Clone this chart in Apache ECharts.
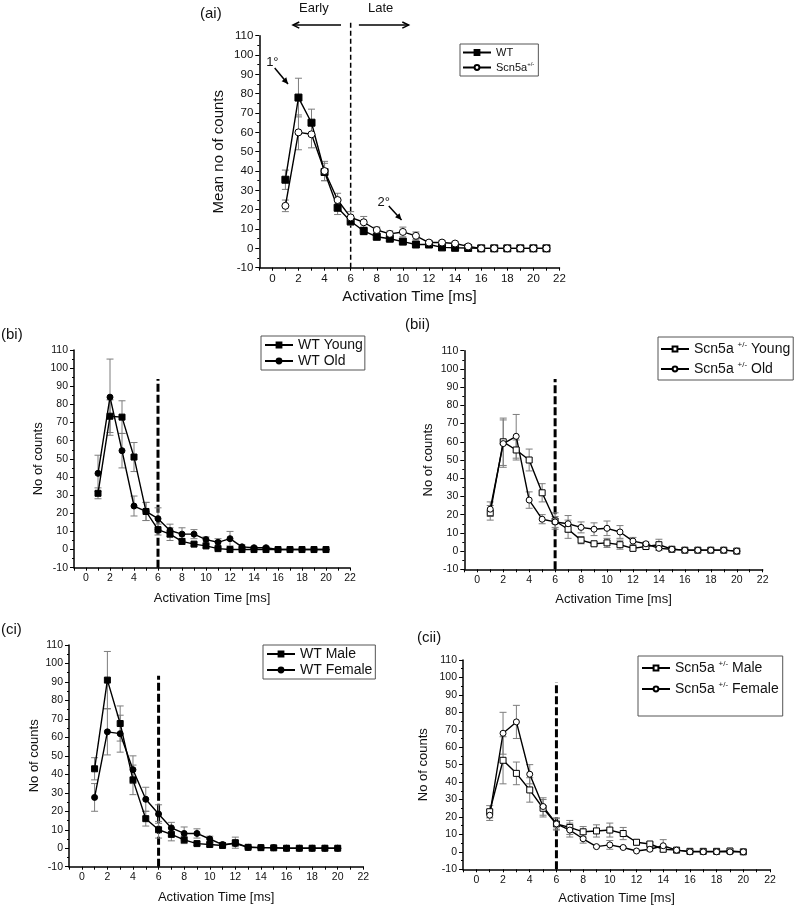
<!DOCTYPE html>
<html><head><meta charset="utf-8">
<script src="https://cdn.jsdelivr.net/npm/echarts@6/dist/echarts.min.js"></script>
<style>html,body{margin:0;padding:0;background:#fff}#c{width:795px;height:909px}</style>
</head><body><div id="c"></div>
<script>
const FONT = 'Liberation Sans, Arial, Helvetica, sans-serif';

// ---------- data ----------
const xAi = [1,2,3,4,5,6,7,8,9,10,11,12,13,14,15,16,17,18,19,20,21];
const xB  = [1,2,3,4,5,6,7,8,9,10,11,12,13,14,15,16,17,18,19,20];

const aiWT       = [35.5,78,65,39.5,21,14,9,6,5,3.5,2,2,0.5,0.3,0.2,0,0,0,0,0,0];
const aiWTErr    = [5,10,7,4.5,3.5,2,2,1.5,1,1,0.5,0.5,0.3,0.3,0.3,0,0,0,0,0,0];
const aiScn      = [22,60,59,40,25,16,13.5,9.5,7.5,8.5,6.5,3,3,2.5,1,0,0,0,0,0,0];
const aiScnErr   = [3,9,7,5,3.5,3,3,1.5,1.5,2.5,2,1,1,1,0.8,0.3,0.3,0.3,0.3,0.3,0];

const biYoung    = [31,73.5,73,51,21,11,8.5,4.5,3,2,0.5,0,0,0,0,0,0,0,0,0];
const biYoungErr = [3,9,9,8,5,3,3.5,1.5,1,1,0.5,0,0,0,0,0,0,0,0,0];
const biOld      = [42,84,54.5,24,21,17,10.5,8.5,8.5,5.5,4,6,1.5,1,1,0,0,0,0,0];
const biOldErr   = [10,21,9.5,5.5,5,6,3.5,3.5,2.5,1.5,2,4,1,0.5,0.5,0,0,0,0,0];

const biiYoung    = [21,60,55.5,50,32,16.5,12,6,4,4.5,3.5,1.5,2.5,3.5,1,0.5,0.5,0.5,0.5,0];
const biiYoungErr = [4,13,5.5,6,5,4.5,5,2,1,2.5,2.5,1,1,3,0.5,0.3,0.3,0.3,0.3,0];
const biiOld      = [23,59,63,28,17.5,16,15,13,12,12.5,10.5,5.5,4,1.5,1,0.5,0.5,0.5,0.5,0];
const biiOldErr   = [4,13,12,4.5,2.5,3,4.5,3,3.5,4,3.5,2,1,1,0.5,0.3,0.3,0.3,0.3,0];

const ciMale      = [43,91,67.5,37,16,10,7.5,4.5,2.5,2,1.5,3,0.5,0.3,0.2,0,0,0,0,0];
const ciMaleErr   = [6,15.5,9.5,8,4,4.5,3.5,2,1,1,1,3,0.5,0.3,0.3,0,0,0,0,0];
const ciFemale    = [27.5,63,62,42.5,26.5,18.5,11,8,8,5,2,2.5,0.5,0.3,0.3,0,0,0,0,0];
const ciFemaleErr = [7.5,12.5,10,7.5,6.5,5,3,3.5,2.5,1.5,1,1.5,0.5,0.3,0.3,0,0,0,0,0];

const ciiMale      = [23,52.5,45,35.5,25,16,14,11.5,12,12.5,10.5,5.5,4.5,1.5,1,0.3,0.3,0.3,0.5,0];
const ciiMaleErr   = [3.5,13.5,6.5,7,5,3.5,4,3,3.5,4,3.5,1.5,1,1,0.5,0.3,0.3,0.3,0.3,0];
const ciiFemale    = [21,68,74.5,44.5,26,16,12.5,7.5,3,4,2.5,0.5,1.5,3.5,1,0,0,0,0,0];
const ciiFemaleErr = [3,12,9.5,5.5,5,3,4,2.5,0.5,2.5,0.5,0.3,1,3.5,0.5,0,0,0,0,0];

// early/late boundary (ms) and the top of its dashed marker in each panel
const boundaryX = 6;
const boundaryTop = [117, 94, 94.4, 93.4, 97.4];

// annotation positions in data units of panel (ai)
const earlyArrow = [[5.26,115.5],[1.58,115.5]];
const lateArrow  = [[6.63,115.5],[10.44,115.5]];
const earlyText  = [3.18,124.3];
const lateText   = [8.3,124.3];
const primArrow  = [[0.18,93.3],[1.2,85]];
const primText   = [0.0,96.4];
const secArrow   = [[8.92,21.9],[9.9,14.7]];
const secText    = [8.54,24];

// ---------- layout ----------
const panels = [
  {label:'(ai)', lx:200, ly:6, grid:{left:259.3, top:35.7, width:300.2, height:232},
   yName:'Mean no of counts', yGap:33, xGap:22, tick:11.5, nameSize:15, sym:7, dash:[5,3], dashW:1.5,
   x:xAi, s:[{name:'WT', y:aiWT, e:aiWTErr, symbol:'rect', fill:'#000'},
             {name:'Scn5a+/-', y:aiScn, e:aiScnErr, symbol:'circle', fill:'#fff'}],
   legend:{left:460, top:44, padding:[3,4,3,2], itemGap:3, fontSize:11}},
  {label:'(bi)', lx:1, ly:327, grid:{left:74, top:350, width:276, height:217.7},
   yName:'No of counts', yGap:29, xGap:24, tick:10.5, nameSize:13, sym:6, dash:[8,3], dashW:3,
   x:xB, s:[{name:'WT Young', y:biYoung, e:biYoungErr, symbol:'rect', fill:'#000'},
            {name:'WT Old', y:biOld, e:biOldErr, symbol:'circle', fill:'#000'}],
   legend:{left:261, top:336, padding:[2,2,2,3], itemGap:2, fontSize:14}},
  {label:'(bii)', lx:405, ly:317, grid:{left:464.3, top:350.7, width:298.4, height:218.6},
   yName:'No of counts', yGap:29, xGap:24, tick:10.5, nameSize:13, sym:6, dash:[8,3], dashW:3,
   x:xB, s:[{name:'Scn5a +/- Young', y:biiYoung, e:biiYoungErr, symbol:'rect', fill:'#fff'},
            {name:'Scn5a +/- Old', y:biiOld, e:biiOldErr, symbol:'circle', fill:'#fff'}],
   legend:{left:658, top:337, padding:[4,3,4,2], itemGap:5, fontSize:14}},
  {label:'(ci)', lx:1, ly:622, grid:{left:69, top:645, width:294.3, height:221.7},
   yName:'No of counts', yGap:28, xGap:24, tick:10.5, nameSize:13, sym:6, dash:[8,3], dashW:3,
   x:xB, s:[{name:'WT Male', y:ciMale, e:ciMaleErr, symbol:'rect', fill:'#000'},
            {name:'WT Female', y:ciFemale, e:ciFemaleErr, symbol:'circle', fill:'#000'}],
   legend:{left:263, top:645, padding:[2,3,2,3], itemGap:2, fontSize:14}},
  {label:'(cii)', lx:417, ly:630, grid:{left:463, top:660, width:307, height:209.3},
   yName:'No of counts', yGap:33, xGap:23, tick:10.5, nameSize:13, sym:6, dash:[8,3], dashW:3,
   x:xB, s:[{name:'Scn5a +/- Male', y:ciiMale, e:ciiMaleErr, symbol:'rect', fill:'#fff'},
            {name:'Scn5a +/- Female', y:ciiFemale, e:ciiFemaleErr, symbol:'circle', fill:'#fff'}],
   legend:{left:638, top:656, padding:[4,4,20,3], itemGap:6, fontSize:14}}
];

const grids = [], xAxes = [], yAxes = [], series = [], legends = [], titles = [];

panels.forEach((p, i) => {
  grids.push(Object.assign({containLabel:false}, p.grid));
  titles.push({text:p.label, left:p.lx, top:p.ly, padding:0,
    textStyle:{fontFamily:FONT, fontSize:15, fontWeight:'normal', color:'#111'}});
  xAxes.push({type:'value', gridIndex:i, min:-1, max:22, interval:1,
    axisLine:{show:true, onZero:false, lineStyle:{color:'#000', width:1.5}},
    axisTick:{show:true, inside:false, length:3, lineStyle:{color:'#000', width:1}},
    axisLabel:{color:'#111', fontFamily:FONT, fontSize:p.tick, margin:5,
      formatter: v => (v % 2 === 0 ? String(v) : '')},
    splitLine:{show:false},
    name:'Activation Time [ms]', nameLocation:'middle', nameGap:p.xGap,
    nameTextStyle:{fontFamily:FONT, fontSize:p.nameSize, color:'#111'}});
  yAxes.push({type:'value', gridIndex:i, min:-10, max:110, interval:10,
    axisLine:{show:true, onZero:false, lineStyle:{color:'#000', width:1.5}},
    axisTick:{show:true, inside:false, length:4, lineStyle:{color:'#000', width:1}},
    minorTick:{show:true, splitNumber:2, length:2, lineStyle:{color:'#000', width:1}},
    axisLabel:{color:'#111', fontFamily:FONT, fontSize:p.tick, margin:6},
    splitLine:{show:false},
    name:p.yName, nameLocation:'middle', nameGap:p.yGap,
    nameTextStyle:{fontFamily:FONT, fontSize:p.nameSize, color:'#111'}});

  // dashed early/late boundary
  series.push({type:'line', xAxisIndex:i, yAxisIndex:i, clip:false, silent:true,
    data:[[boundaryX,-10],[boundaryX,boundaryTop[i]]], symbol:'none', z:1,
    lineStyle:{color:'#000', width:p.dashW, type:p.dash}});

  p.s.forEach(s => {
    // error bars
    series.push({type:'custom', xAxisIndex:i, yAxisIndex:i, silent:true, z:2,
      data:p.x.map((x, k) => [x, s.y[k] - s.e[k], s.y[k] + s.e[k]]),
      encode:{x:0, y:[1,2]},
      renderItem:(params, api) => {
        const x = api.value(0);
        const a = api.coord([x, api.value(2)]), b = api.coord([x, api.value(1)]);
        const w = 3.5, st = {stroke:'#7d7d7d', lineWidth:1};
        return {type:'group', children:[
          {type:'line', shape:{x1:a[0], y1:a[1], x2:b[0], y2:b[1]}, style:st},
          {type:'line', shape:{x1:a[0]-w, y1:a[1], x2:a[0]+w, y2:a[1]}, style:st},
          {type:'line', shape:{x1:b[0]-w, y1:b[1], x2:b[0]+w, y2:b[1]}, style:st}]};
      }});
    series.push({type:'line', name:s.name, xAxisIndex:i, yAxisIndex:i, z:3,
      data:p.x.map((x, k) => [x, s.y[k]]),
      symbol:s.symbol, symbolSize:p.sym, showSymbol:true,
      lineStyle:{color:'#000', width:1.4},
      itemStyle:{color:s.fill, borderColor:'#000', borderWidth:1}});
  });

  const fs = p.legend.fontSize;
  legends.push({orient:'vertical', left:p.legend.left, top:p.legend.top,
    padding:p.legend.padding, itemGap:p.legend.itemGap, itemWidth:28, itemHeight:6,
    borderColor:'#555', borderWidth:1, backgroundColor:'#fff', selectedMode:false,
    data:p.s.map(s => s.name),
    textStyle:{fontFamily:FONT, fontSize:fs, color:'#111',
      rich:{t:{fontFamily:FONT, fontSize:fs, lineHeight:fs+2, color:'#111'},
            s:{fontFamily:FONT, fontSize:Math.round(fs*0.55), verticalAlign:'top', lineHeight:fs+2, color:'#111'}}},
    formatter: n => {
      if (n.indexOf('+/-') < 0) return '{t|' + n + '}';
      const parts = n.split('+/-');
      return '{t|' + parts[0] + '}{s|+/-}' + (parts[1] ? '{t|' + parts[1] + '}' : '');
    }});
});

const chart = echarts.init(document.getElementById('c'), null, {renderer:'canvas'});
chart.setOption({
  animation:false, backgroundColor:'#fff',
  textStyle:{fontFamily:FONT},
  title:titles, grid:grids, xAxis:xAxes, yAxis:yAxes, legend:legends, series:series
});

// annotations of panel (ai), placed through the panel's own scales
const P = v => chart.convertToPixel({xAxisIndex:0, yAxisIndex:0}, v);
function arrow(from, to, filled, head) {
  const a = P(from), b = P(to);
  const ang = Math.atan2(b[1]-a[1], b[0]-a[0]);
  const h = head, sp = 0.45;
  const l = [b[0]-h*Math.cos(ang-sp), b[1]-h*Math.sin(ang-sp)];
  const r = [b[0]-h*Math.cos(ang+sp), b[1]-h*Math.sin(ang+sp)];
  const els = [{type:'line', shape:{x1:a[0], y1:a[1], x2:b[0], y2:b[1]}, style:{stroke:'#000', lineWidth:1.5}}];
  if (filled) els.push({type:'polygon', shape:{points:[b, l, r]}, style:{fill:'#000'}});
  else els.push({type:'polyline', shape:{points:[l, b, r]}, style:{stroke:'#000', lineWidth:1.5, fill:null}});
  return els;
}
function label(pos, text, size) {
  const c = P(pos);
  return {type:'text', x:c[0], y:c[1], style:{text:text, fill:'#111', font:size + 'px ' + FONT, align:'center', verticalAlign:'middle'}};
}
chart.setOption({graphic:[].concat(
  arrow(earlyArrow[0], earlyArrow[1], false, 7),
  arrow(lateArrow[0], lateArrow[1], false, 7),
  arrow(primArrow[0], primArrow[1], true, 7),
  arrow(secArrow[0], secArrow[1], true, 7),
  [label(earlyText, 'Early', 13), label(lateText, 'Late', 13),
   label(primText, '1°', 13), label(secText, '2°', 13)]
)});
</script></body></html>
